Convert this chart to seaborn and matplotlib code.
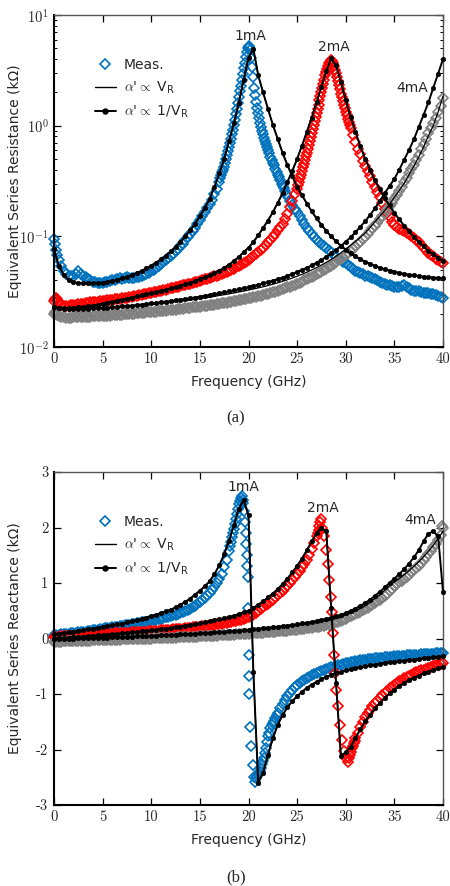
import numpy as np
import matplotlib
matplotlib.use("Agg")
import matplotlib.pyplot as plt
import matplotlib.ticker as mticker
from matplotlib.lines import Line2D
import seaborn as sns

# ---------------------------------------------------------------- data
CURRENTS = ["1mA", "2mA", "4mA"]
COLORS = {"1mA": "#0072BD", "2mA": "#FF0000", "4mA": "#808080"}
XTICKS = [0, 5, 10, 15, 20, 25, 30, 35, 40]
RTICKS = [1e-2, 1e-1, 1e0, 1e1]
RTICK_LABELS = [r"$10^{-2}$", r"$10^{-1}$", r"$10^{0}$", r"$10^{1}$"]
XRTICKS = [-3, -2, -1, 0, 1, 2, 3]

# model frequency sweep (GHz)
F_MODEL = np.arange(0.0, 40.25, 0.5)

# ---- equivalent series resistance, models (kOhm)
R_INV_1MA = [0.077, 0.054, 0.045, 0.040, 0.0385, 0.0378, 0.0375, 0.0375, 0.0376, 0.0378,
             0.0382, 0.0388, 0.0396, 0.0405, 0.0416, 0.0430, 0.0446, 0.0465, 0.0488, 0.0514,
             0.0545, 0.058, 0.062, 0.067, 0.073, 0.080, 0.089, 0.100, 0.113, 0.130,
             0.152, 0.180, 0.218, 0.28, 0.37, 0.50, 0.72, 1.05, 1.60, 2.60,
             4.10, 4.95, 2.85, 2.00, 1.42, 1.02, 0.76, 0.57, 0.44, 0.35,
             0.28, 0.235, 0.198, 0.168, 0.145, 0.127, 0.112, 0.100, 0.090, 0.082,
             0.076, 0.070, 0.066, 0.062, 0.059, 0.0565, 0.054, 0.052, 0.0505, 0.049,
             0.0478, 0.0467, 0.0458, 0.045, 0.0443, 0.0437, 0.0432, 0.0428, 0.0424, 0.0421,
             0.0418]
R_VR_1MA = [0.076, 0.054, 0.045, 0.040, 0.0385, 0.0378, 0.0375, 0.0375, 0.0376, 0.0378,
            0.0382, 0.0388, 0.0396, 0.0405, 0.0416, 0.0430, 0.0446, 0.0465, 0.0488, 0.0514,
            0.0545, 0.058, 0.062, 0.067, 0.073, 0.080, 0.089, 0.100, 0.113, 0.130,
            0.152, 0.180, 0.218, 0.28, 0.37, 0.50, 0.72, 1.05, 1.60, 2.60,
            4.10, 4.90, 2.85, 2.00, 1.42, 1.02, 0.76, 0.57, 0.44, 0.35,
            0.28, 0.235, 0.198, 0.168, 0.145, 0.127, 0.112, 0.100, 0.090, 0.082,
            0.076, 0.070, 0.066, 0.062, 0.059, 0.0565, 0.054, 0.052, 0.0505, 0.049,
            0.0478, 0.0467, 0.0458, 0.045, 0.0443, 0.0437, 0.0432, 0.0428, 0.0424, 0.0421,
            0.0418]
R_INV_2MA = [0.0228, 0.0225, 0.0224, 0.0225, 0.0226, 0.0228, 0.0230, 0.0233, 0.0237, 0.0241,
             0.0246, 0.0251, 0.0256, 0.0262, 0.0268, 0.0274, 0.0280, 0.0286, 0.0292, 0.0299,
             0.0306, 0.0313, 0.0321, 0.0329, 0.0338, 0.0347, 0.0357, 0.0368, 0.0380, 0.0394,
             0.0410, 0.0427, 0.0446, 0.0468, 0.0490, 0.0520, 0.0555, 0.0600, 0.0650, 0.0720,
             0.079, 0.089, 0.102, 0.119, 0.139, 0.165, 0.200, 0.245, 0.310, 0.390,
             0.50, 0.66, 0.88, 1.18, 1.62, 2.25, 3.10, 4.05, 3.50, 2.50,
             1.70, 1.20, 0.88, 0.65, 0.50, 0.40, 0.32, 0.265, 0.222, 0.190,
             0.163, 0.142, 0.125, 0.111, 0.099, 0.089, 0.081, 0.074, 0.069, 0.064,
             0.060]
R_VR_2MA = [0.0227, 0.0225, 0.0224, 0.0225, 0.0226, 0.0228, 0.0230, 0.0233, 0.0237, 0.0241,
            0.0246, 0.0251, 0.0256, 0.0262, 0.0268, 0.0274, 0.0280, 0.0286, 0.0292, 0.0299,
            0.0306, 0.0313, 0.0321, 0.0329, 0.0338, 0.0347, 0.0357, 0.0368, 0.0380, 0.0394,
            0.0410, 0.0427, 0.0446, 0.0468, 0.0490, 0.0520, 0.0555, 0.0600, 0.0650, 0.0720,
            0.079, 0.089, 0.102, 0.119, 0.139, 0.165, 0.200, 0.245, 0.310, 0.390,
            0.50, 0.66, 0.88, 1.18, 1.62, 2.25, 3.10, 4.00, 3.50, 2.50,
            1.70, 1.20, 0.88, 0.65, 0.50, 0.40, 0.32, 0.265, 0.222, 0.190,
            0.163, 0.142, 0.125, 0.111, 0.099, 0.089, 0.081, 0.074, 0.069, 0.064,
            0.060]
R_INV_4MA = [0.0228, 0.0223, 0.0221, 0.0220, 0.0220, 0.0220, 0.0221, 0.0222, 0.0223, 0.0224,
             0.0226, 0.0227, 0.0229, 0.0231, 0.0233, 0.0235, 0.0237, 0.0239, 0.0242, 0.0245,
             0.0248, 0.0251, 0.0254, 0.0257, 0.0260, 0.0264, 0.0268, 0.0272, 0.0276, 0.0280,
             0.0285, 0.0290, 0.0295, 0.0300, 0.0306, 0.0312, 0.0318, 0.0325, 0.0332, 0.0340,
             0.0348, 0.0356, 0.0365, 0.0375, 0.0386, 0.0398, 0.0410, 0.0424, 0.0440, 0.0457,
             0.0476, 0.0497, 0.0520, 0.0547, 0.0578, 0.0613, 0.0654, 0.0700, 0.0755, 0.0820,
             0.0895, 0.098, 0.109, 0.122, 0.137, 0.156, 0.179, 0.208, 0.245, 0.285,
             0.33, 0.40, 0.49, 0.60, 0.75, 0.97, 1.25, 1.62, 2.20, 2.95,
             4.0]
R_VR_4MA = [0.0226, 0.0222, 0.0220, 0.0219, 0.0219, 0.0219, 0.0220, 0.0220, 0.0221, 0.0222,
            0.0223, 0.0225, 0.0226, 0.0228, 0.0230, 0.0231, 0.0233, 0.0235, 0.0237, 0.0240,
            0.0242, 0.0245, 0.0247, 0.0250, 0.0253, 0.0256, 0.0259, 0.0263, 0.0266, 0.0270,
            0.0274, 0.0278, 0.0282, 0.0287, 0.0292, 0.0297, 0.0302, 0.0308, 0.0314, 0.0320,
            0.0327, 0.0334, 0.0342, 0.0350, 0.0359, 0.0369, 0.0380, 0.0392, 0.0405, 0.0420,
            0.0436, 0.0454, 0.0474, 0.0497, 0.0522, 0.0550, 0.0582, 0.0618, 0.0660, 0.0710,
            0.0770, 0.0830, 0.0900, 0.0980, 0.107, 0.120, 0.135, 0.152, 0.170, 0.195,
            0.225, 0.260, 0.300, 0.360, 0.430, 0.520, 0.640, 0.810, 1.00, 1.33,
            1.85]

# ---- equivalent series reactance, models (kOhm)
X_INV_1MA = [0.08, 0.09, 0.10, 0.11, 0.12, 0.135, 0.15, 0.165, 0.18, 0.195,
             0.21, 0.225, 0.24, 0.255, 0.27, 0.29, 0.31, 0.33, 0.35, 0.375,
             0.40, 0.43, 0.46, 0.49, 0.52, 0.56, 0.61, 0.66, 0.72, 0.79,
             0.86, 0.94, 1.03, 1.16, 1.32, 1.52, 1.76, 2.04, 2.34, 2.50,
             2.22, -0.60, -2.60, -2.42, -2.10, -1.80, -1.56, -1.38, -1.24, -1.13,
             -1.04, -0.96, -0.89, -0.83, -0.78, -0.73, -0.69, -0.655, -0.625, -0.60,
             -0.575, -0.555, -0.535, -0.515, -0.50, -0.485, -0.47, -0.455, -0.44, -0.43,
             -0.42, -0.41, -0.40, -0.39, -0.38, -0.37, -0.36, -0.35, -0.34, -0.33,
             -0.32]
X_VR_1MA = [0.08, 0.09, 0.10, 0.11, 0.12, 0.135, 0.15, 0.165, 0.18, 0.195,
            0.21, 0.225, 0.24, 0.255, 0.27, 0.29, 0.31, 0.33, 0.35, 0.375,
            0.40, 0.43, 0.46, 0.49, 0.52, 0.56, 0.61, 0.66, 0.72, 0.79,
            0.86, 0.94, 1.03, 1.16, 1.32, 1.52, 1.76, 2.04, 2.34, 2.48,
            2.20, -0.60, -2.58, -2.42, -2.10, -1.80, -1.56, -1.38, -1.24, -1.13,
            -1.04, -0.96, -0.89, -0.83, -0.78, -0.73, -0.69, -0.655, -0.625, -0.60,
            -0.575, -0.555, -0.535, -0.515, -0.50, -0.485, -0.47, -0.455, -0.44, -0.43,
            -0.42, -0.41, -0.40, -0.39, -0.38, -0.37, -0.36, -0.35, -0.34, -0.33,
            -0.32]
X_INV_2MA = [0.00, 0.006, 0.012, 0.018, 0.024, 0.030, 0.036, 0.042, 0.049, 0.056,
             0.063, 0.070, 0.077, 0.085, 0.093, 0.101, 0.109, 0.118, 0.127, 0.137,
             0.147, 0.157, 0.168, 0.179, 0.190, 0.202, 0.215, 0.228, 0.242, 0.258,
             0.275, 0.29, 0.307, 0.325, 0.345, 0.365, 0.388, 0.413, 0.44, 0.47,
             0.50, 0.55, 0.61, 0.67, 0.74, 0.81, 0.89, 0.98, 1.08, 1.19,
             1.31, 1.44, 1.59, 1.75, 1.90, 2.00, 1.93, 0.55, -0.80, -2.12,
             -2.05, -1.95, -1.80, -1.63, -1.49, -1.37, -1.26, -1.16, -1.07, -0.99,
             -0.92, -0.86, -0.80, -0.75, -0.71, -0.67, -0.63, -0.60, -0.57, -0.54,
             -0.51]
X_VR_2MA = [0.00, 0.006, 0.012, 0.018, 0.024, 0.030, 0.036, 0.042, 0.049, 0.056,
            0.063, 0.070, 0.077, 0.085, 0.093, 0.101, 0.109, 0.118, 0.127, 0.137,
            0.147, 0.157, 0.168, 0.179, 0.190, 0.202, 0.215, 0.228, 0.242, 0.258,
            0.275, 0.29, 0.307, 0.325, 0.345, 0.365, 0.388, 0.413, 0.44, 0.47,
            0.50, 0.55, 0.61, 0.67, 0.74, 0.81, 0.89, 0.98, 1.08, 1.19,
            1.31, 1.44, 1.59, 1.75, 1.89, 1.98, 1.92, 0.55, -0.80, -2.10,
            -2.05, -1.95, -1.80, -1.63, -1.49, -1.37, -1.26, -1.16, -1.07, -0.99,
            -0.92, -0.86, -0.80, -0.75, -0.71, -0.67, -0.63, -0.60, -0.57, -0.54,
            -0.51]
X_INV_4MA = [-0.010, -0.008, -0.005, -0.003, 0.000, 0.002, 0.005, 0.007, 0.010, 0.012,
             0.015, 0.017, 0.020, 0.023, 0.027, 0.030, 0.034, 0.037, 0.041, 0.044,
             0.048, 0.052, 0.056, 0.060, 0.064, 0.068, 0.073, 0.077, 0.082, 0.087,
             0.092, 0.097, 0.103, 0.109, 0.115, 0.121, 0.128, 0.135, 0.142, 0.149,
             0.157, 0.165, 0.173, 0.181, 0.190, 0.200, 0.210, 0.221, 0.232, 0.244,
             0.257, 0.271, 0.285, 0.300, 0.317, 0.335, 0.355, 0.376, 0.400, 0.426,
             0.46, 0.50, 0.54, 0.59, 0.64, 0.70, 0.77, 0.84, 0.92, 1.00,
             1.08, 1.16, 1.25, 1.35, 1.46, 1.59, 1.75, 1.89, 1.93, 1.84,
             0.84]
X_VR_4MA = [-0.012, -0.010, -0.007, -0.005, -0.002, 0.000, 0.003, 0.005, 0.008, 0.010,
            0.013, 0.015, 0.018, 0.021, 0.024, 0.027, 0.031, 0.034, 0.037, 0.041,
            0.044, 0.048, 0.052, 0.056, 0.060, 0.064, 0.068, 0.072, 0.077, 0.081,
            0.086, 0.091, 0.096, 0.101, 0.107, 0.113, 0.119, 0.125, 0.132, 0.139,
            0.146, 0.153, 0.161, 0.169, 0.177, 0.186, 0.195, 0.205, 0.215, 0.226,
            0.237, 0.249, 0.262, 0.275, 0.290, 0.305, 0.322, 0.340, 0.360, 0.382,
            0.43, 0.46, 0.50, 0.54, 0.59, 0.65, 0.72, 0.79, 0.87, 0.95,
            1.02, 1.08, 1.15, 1.22, 1.30, 1.38, 1.47, 1.57, 1.68, 1.80,
            1.93]

# ---- measured data, (frequency GHz, value kOhm) pairs
MEAS_R_1MA = [
    (0, 0.094), (0.1, 0.085), (0.2, 0.075), (0.3, 0.068), (0.5, 0.061), (0.75, 0.054), (1, 0.049),
    (1.25, 0.046), (1.5, 0.044), (1.75, 0.0435), (2, 0.043), (2.25, 0.046), (2.5, 0.049),
    (2.75, 0.046), (3, 0.044), (3.25, 0.0425), (3.5, 0.041), (3.75, 0.040), (4, 0.039),
    (4.25, 0.0385), (4.5, 0.038), (4.75, 0.0378), (5, 0.038), (5.25, 0.0385), (5.5, 0.039),
    (5.75, 0.0395), (6, 0.040), (6.25, 0.0405), (6.5, 0.041), (6.75, 0.042), (7, 0.0415),
    (7.25, 0.042), (7.5, 0.0425), (7.75, 0.0423), (8, 0.042), (8.25, 0.0422), (8.5, 0.0425),
    (8.75, 0.0432), (9, 0.044), (9.25, 0.045), (9.5, 0.046), (9.75, 0.047), (10, 0.0485),
    (10.25, 0.050), (10.5, 0.052), (10.75, 0.054), (11, 0.056), (11.25, 0.0585), (11.5, 0.061),
    (11.75, 0.0635), (12, 0.066), (12.25, 0.0695), (12.5, 0.073), (12.75, 0.077), (13, 0.081),
    (13.25, 0.086), (13.5, 0.092), (13.75, 0.098), (14, 0.104), (14.25, 0.112), (14.5, 0.120),
    (14.75, 0.130), (15, 0.140), (15.25, 0.152), (15.5, 0.165), (15.75, 0.18), (16, 0.195),
    (16.25, 0.215), (16.5, 0.24), (16.75, 0.27), (17, 0.31), (17.1, 0.335), (17.2, 0.355),
    (17.3, 0.38), (17.4, 0.40), (17.5, 0.42), (17.6, 0.46), (17.7, 0.50), (17.8, 0.54),
    (17.9, 0.59), (18, 0.64), (18.1, 0.70), (18.2, 0.76), (18.3, 0.84), (18.4, 0.92),
    (18.5, 1.02), (18.6, 1.13), (18.7, 1.27), (18.8, 1.42), (18.9, 1.60), (19, 1.80),
    (19.1, 2.05), (19.2, 2.3), (19.3, 2.6), (19.4, 2.95), (19.5, 3.3), (19.6, 3.7), (19.7, 4.15),
    (19.8, 4.6), (19.9, 5.0), (20, 5.25), (20.1, 5.1), (20.2, 4.8), (20.3, 4.1), (20.4, 3.4),
    (20.5, 2.75), (20.6, 2.2), (20.7, 1.9), (20.8, 1.65), (20.9, 1.45), (21, 1.30), (21.1, 1.17),
    (21.2, 1.05), (21.3, 0.97), (21.4, 0.90), (21.5, 0.84), (21.6, 0.78), (21.7, 0.72),
    (21.8, 0.68), (21.9, 0.64), (22, 0.60), (22.1, 0.57), (22.25, 0.52), (22.4, 0.485),
    (22.5, 0.46), (22.6, 0.44), (22.75, 0.41), (22.9, 0.38), (23, 0.36), (23.1, 0.345),
    (23.25, 0.32), (23.4, 0.30), (23.5, 0.285), (23.6, 0.275), (23.75, 0.255), (23.9, 0.24),
    (24, 0.23), (24.25, 0.21), (24.5, 0.19), (24.75, 0.177), (25, 0.165), (25.25, 0.152),
    (25.5, 0.14), (25.75, 0.128), (26, 0.118), (26.25, 0.111), (26.5, 0.105), (26.75, 0.098),
    (27, 0.092), (27.25, 0.088), (27.5, 0.085), (27.75, 0.081), (28, 0.078), (28.25, 0.075),
    (28.5, 0.072), (28.75, 0.068), (29, 0.065), (29.25, 0.063), (29.5, 0.061), (29.75, 0.059),
    (30, 0.057), (30.25, 0.055), (30.5, 0.053), (30.75, 0.051), (31, 0.049), (31.25, 0.048),
    (31.5, 0.047), (31.75, 0.0455), (32, 0.044), (32.25, 0.0435), (32.5, 0.043), (32.75, 0.042),
    (33, 0.041), (33.25, 0.040), (33.5, 0.039), (33.75, 0.038), (34, 0.037), (34.25, 0.0365),
    (34.5, 0.036), (34.75, 0.0355), (35, 0.035), (35.25, 0.0345), (35.5, 0.0345), (35.75, 0.0355),
    (36, 0.036), (36.25, 0.035), (36.5, 0.034), (36.75, 0.033), (37, 0.032), (37.25, 0.032),
    (37.5, 0.032), (37.75, 0.0315), (38, 0.031), (38.25, 0.0308), (38.5, 0.0305), (38.75, 0.0302),
    (39, 0.030), (39.25, 0.0295), (39.5, 0.029), (39.75, 0.0285), (40, 0.028)]
MEAS_R_2MA = [
    (0, 0.026), (0.1, 0.027), (0.2, 0.0275), (0.3, 0.027), (0.4, 0.026), (0.5, 0.025),
    (0.75, 0.0238), (1, 0.0235), (1.25, 0.0235), (1.5, 0.0236), (1.75, 0.0238), (2, 0.024),
    (2.25, 0.0242), (2.5, 0.0243), (2.75, 0.0245), (3, 0.0247), (3.25, 0.0249), (3.5, 0.0251),
    (3.75, 0.0253), (4, 0.0254), (4.25, 0.0256), (4.5, 0.0257), (4.75, 0.0259), (5, 0.026),
    (5.25, 0.0262), (5.5, 0.0264), (5.75, 0.0266), (6, 0.0268), (6.25, 0.027), (6.5, 0.0272),
    (6.75, 0.0274), (7, 0.0276), (7.25, 0.0278), (7.5, 0.028), (7.75, 0.0283), (8, 0.0285),
    (8.25, 0.0288), (8.5, 0.029), (8.75, 0.0293), (9, 0.0296), (9.25, 0.0299), (9.5, 0.0302),
    (9.75, 0.0305), (10, 0.0308), (10.25, 0.0311), (10.5, 0.0315), (10.75, 0.0318), (11, 0.0322),
    (11.25, 0.0326), (11.5, 0.033), (11.75, 0.0334), (12, 0.0338), (12.25, 0.0342), (12.5, 0.0346),
    (12.75, 0.035), (13, 0.0355), (13.25, 0.036), (13.5, 0.0364), (13.75, 0.0369), (14, 0.0374),
    (14.25, 0.0379), (14.5, 0.0385), (14.75, 0.039), (15, 0.0396), (15.25, 0.0402), (15.5, 0.0408),
    (15.75, 0.0414), (16, 0.0421), (16.25, 0.0428), (16.5, 0.0435), (16.75, 0.0442), (17, 0.045),
    (17.25, 0.0458), (17.5, 0.0467), (17.75, 0.0477), (18, 0.0487), (18.25, 0.0498), (18.5, 0.051),
    (18.75, 0.0524), (19, 0.0538), (19.25, 0.0553), (19.5, 0.057), (19.75, 0.059), (20, 0.061),
    (20.25, 0.0633), (20.5, 0.066), (20.75, 0.069), (21, 0.072), (21.25, 0.0755), (21.5, 0.079),
    (21.75, 0.0835), (22, 0.088), (22.25, 0.0935), (22.5, 0.099), (22.75, 0.106), (23, 0.113),
    (23.25, 0.121), (23.5, 0.13), (23.75, 0.143), (24, 0.16), (24.25, 0.183), (24.5, 0.21),
    (24.75, 0.24), (25, 0.27), (25.1, 0.29), (25.2, 0.31), (25.3, 0.335), (25.4, 0.36),
    (25.5, 0.39), (25.6, 0.42), (25.7, 0.45), (25.8, 0.49), (25.9, 0.53), (26, 0.57), (26.1, 0.62),
    (26.2, 0.67), (26.3, 0.73), (26.4, 0.79), (26.5, 0.86), (26.6, 0.93), (26.7, 1.01), (26.8, 1.10),
    (26.9, 1.20), (27, 1.30), (27.1, 1.42), (27.2, 1.55), (27.3, 1.70), (27.4, 1.85), (27.5, 2.0),
    (27.6, 2.2), (27.7, 2.4), (27.8, 2.6), (27.9, 2.85), (28, 3.05), (28.1, 3.25), (28.2, 3.45),
    (28.3, 3.65), (28.4, 3.8), (28.5, 3.9), (28.6, 3.85), (28.7, 3.7), (28.8, 3.45), (28.9, 3.2),
    (29, 3.0), (29.1, 2.75), (29.2, 2.55), (29.3, 2.35), (29.4, 2.15), (29.5, 1.95), (29.6, 1.8),
    (29.7, 1.67), (29.8, 1.55), (29.9, 1.43), (30, 1.33), (30.1, 1.24), (30.2, 1.16), (30.3, 1.08),
    (30.4, 1.01), (30.5, 0.95), (30.75, 0.82), (31, 0.71), (31.25, 0.62), (31.5, 0.55),
    (31.75, 0.48), (32, 0.43), (32.25, 0.39), (32.5, 0.35), (32.75, 0.31), (33, 0.28), (33.25, 0.25),
    (33.5, 0.225), (33.75, 0.2), (34, 0.178), (34.25, 0.162), (34.5, 0.148), (34.75, 0.136),
    (35, 0.127), (35.25, 0.121), (35.5, 0.117), (35.75, 0.114), (36, 0.111), (36.25, 0.108),
    (36.5, 0.104), (36.75, 0.1), (37, 0.096), (37.25, 0.092), (37.5, 0.088), (37.75, 0.083),
    (38, 0.079), (38.25, 0.075), (38.5, 0.071), (38.75, 0.068), (39, 0.066), (39.25, 0.063),
    (39.5, 0.061), (39.75, 0.059), (40, 0.057)]
MEAS_R_4MA = [
    (0, 0.0199), (0.1, 0.0205), (0.2, 0.020), (0.3, 0.0195), (0.5, 0.019), (0.75, 0.0187),
    (1, 0.0185), (1.25, 0.0184), (1.5, 0.0184), (1.75, 0.0184), (2, 0.0185), (2.25, 0.0185),
    (2.5, 0.0186), (2.75, 0.0186), (3, 0.0187), (3.25, 0.0187), (3.5, 0.0188), (3.75, 0.0188),
    (4, 0.0189), (4.25, 0.0189), (4.5, 0.019), (4.75, 0.019), (5, 0.0191), (5.25, 0.0191),
    (5.5, 0.0192), (5.75, 0.0192), (6, 0.0193), (6.25, 0.0194), (6.5, 0.0195), (6.75, 0.0195),
    (7, 0.0196), (7.25, 0.0197), (7.5, 0.0198), (7.75, 0.0198), (8, 0.0199), (8.25, 0.02),
    (8.5, 0.0201), (8.75, 0.0202), (9, 0.0203), (9.25, 0.0204), (9.5, 0.0205), (9.75, 0.0206),
    (10, 0.0207), (10.25, 0.0208), (10.5, 0.0209), (10.75, 0.021), (11, 0.0211), (11.25, 0.0212),
    (11.5, 0.0213), (11.75, 0.0214), (12, 0.0215), (12.25, 0.0216), (12.5, 0.0218), (12.75, 0.0219),
    (13, 0.022), (13.25, 0.0222), (13.5, 0.0223), (13.75, 0.0225), (14, 0.0226), (14.25, 0.0228),
    (14.5, 0.0229), (14.75, 0.0231), (15, 0.0232), (15.25, 0.0234), (15.5, 0.0235), (15.75, 0.0237),
    (16, 0.0238), (16.25, 0.024), (16.5, 0.0242), (16.75, 0.0244), (17, 0.0246), (17.25, 0.0248),
    (17.5, 0.025), (17.75, 0.0252), (18, 0.0254), (18.25, 0.0256), (18.5, 0.0259), (18.75, 0.0261),
    (19, 0.0264), (19.25, 0.0266), (19.5, 0.0269), (19.75, 0.0272), (20, 0.0275), (20.25, 0.0278),
    (20.5, 0.0281), (20.75, 0.0284), (21, 0.0288), (21.25, 0.0291), (21.5, 0.0295), (21.75, 0.0299),
    (22, 0.0303), (22.25, 0.0307), (22.5, 0.0312), (22.75, 0.0317), (23, 0.0322), (23.25, 0.0327),
    (23.5, 0.0333), (23.75, 0.0339), (24, 0.0345), (24.25, 0.0351), (24.5, 0.0358), (24.75, 0.0365),
    (25, 0.0373), (25.25, 0.0381), (25.5, 0.039), (25.75, 0.0399), (26, 0.0409), (26.25, 0.0419),
    (26.5, 0.043), (26.75, 0.0442), (27, 0.0454), (27.25, 0.0467), (27.5, 0.048), (27.75, 0.0495),
    (28, 0.051), (28.25, 0.0527), (28.5, 0.0545), (28.75, 0.0565), (29, 0.0585), (29.25, 0.0607),
    (29.5, 0.063), (29.75, 0.0655), (30, 0.068), (30.25, 0.071), (30.5, 0.074), (30.75, 0.0775),
    (31, 0.081), (31.25, 0.085), (31.5, 0.089), (31.75, 0.094), (32, 0.099), (32.25, 0.105),
    (32.5, 0.111), (32.75, 0.118), (33, 0.125), (33.25, 0.133), (33.5, 0.142), (33.75, 0.152),
    (34, 0.163), (34.25, 0.175), (34.5, 0.188), (34.75, 0.202), (35, 0.218), (35.25, 0.237),
    (35.5, 0.258), (35.75, 0.282), (36, 0.308), (36.25, 0.337), (36.5, 0.37), (36.75, 0.405),
    (37, 0.445), (37.25, 0.49), (37.5, 0.545), (37.75, 0.61), (38, 0.68), (38.25, 0.76),
    (38.5, 0.85), (38.75, 0.95), (39, 1.06), (39.25, 1.18), (39.5, 1.33), (39.75, 1.52), (40, 1.78)]

MEAS_X_1MA = [
    (0, 0.06), (0.25, 0.065), (0.5, 0.07), (0.75, 0.075), (1, 0.08), (1.25, 0.085), (1.5, 0.09),
    (1.75, 0.095), (2, 0.10), (2.25, 0.105), (2.5, 0.11), (2.75, 0.115), (3, 0.12), (3.25, 0.125),
    (3.5, 0.13), (3.75, 0.137), (4, 0.145), (4.25, 0.152), (4.5, 0.16), (4.75, 0.167), (5, 0.175),
    (5.25, 0.182), (5.5, 0.19), (5.75, 0.195), (6, 0.20), (6.25, 0.207), (6.5, 0.215), (6.75, 0.222),
    (7, 0.23), (7.25, 0.237), (7.5, 0.245), (7.75, 0.252), (8, 0.26), (8.25, 0.267), (8.5, 0.275),
    (8.75, 0.282), (9, 0.29), (9.25, 0.297), (9.5, 0.305), (9.75, 0.312), (10, 0.32), (10.25, 0.33),
    (10.5, 0.34), (10.75, 0.35), (11, 0.36), (11.25, 0.37), (11.5, 0.38), (11.75, 0.392),
    (12, 0.405), (12.25, 0.417), (12.5, 0.43), (12.75, 0.445), (13, 0.46), (13.25, 0.48),
    (13.5, 0.50), (13.75, 0.52), (14, 0.54), (14.25, 0.565), (14.5, 0.59), (14.75, 0.62),
    (15, 0.65), (15.25, 0.69), (15.5, 0.73), (15.75, 0.775), (16, 0.82), (16.25, 0.87),
    (16.5, 0.93), (16.75, 1.00), (17, 1.08), (17.25, 1.17), (17.5, 1.28), (17.75, 1.42),
    (18, 1.58), (18.1, 1.66), (18.2, 1.74), (18.3, 1.82), (18.4, 1.90), (18.5, 1.98), (18.6, 2.07),
    (18.7, 2.16), (18.8, 2.25), (18.9, 2.34), (19.0, 2.42), (19.1, 2.48), (19.2, 2.53),
    (19.3, 2.56), (19.4, 2.50), (19.45, 2.45), (19.5, 2.30), (19.6, 2.10), (19.7, 1.90),
    (19.75, 1.70), (19.8, 1.50), (19.85, 1.30), (19.9, 1.10), (19.95, 0.55), (20.0, -0.30),
    (20.05, -0.68), (20.1, -1.00), (20.2, -1.60), (20.3, -1.93), (20.45, -2.28), (20.6, -2.50),
    (20.7, -2.58), (20.8, -2.52), (20.9, -2.48), (21.0, -2.45), (21.1, -2.42), (21.2, -2.38),
    (21.3, -2.33), (21.4, -2.27), (21.5, -2.21), (21.6, -2.15), (21.7, -2.07), (21.8, -1.98),
    (21.9, -1.87), (22.0, -1.75), (22.1, -1.70), (22.25, -1.62), (22.4, -1.56), (22.5, -1.52),
    (22.6, -1.48), (22.75, -1.43), (22.9, -1.37), (23.0, -1.34), (23.25, -1.26), (23.5, -1.18),
    (23.75, -1.11), (24, -1.04), (24.25, -0.98), (24.5, -0.93), (24.75, -0.88), (25, -0.84),
    (25.25, -0.80), (25.5, -0.77), (25.75, -0.74), (26, -0.71), (26.25, -0.685), (26.5, -0.66),
    (26.75, -0.64), (27, -0.62), (27.25, -0.60), (27.5, -0.58), (27.75, -0.565), (28, -0.55),
    (28.25, -0.535), (28.5, -0.52), (28.75, -0.505), (29, -0.49), (29.25, -0.48), (29.5, -0.47),
    (29.75, -0.46), (30, -0.45), (30.25, -0.44), (30.5, -0.43), (30.75, -0.42), (31, -0.41),
    (31.25, -0.402), (31.5, -0.395), (31.75, -0.387), (32, -0.38), (32.25, -0.375), (32.5, -0.37),
    (32.75, -0.365), (33, -0.36), (33.25, -0.355), (33.5, -0.35), (33.75, -0.345), (34, -0.34),
    (34.25, -0.335), (34.5, -0.33), (34.75, -0.325), (35, -0.32), (35.25, -0.317), (35.5, -0.315),
    (35.75, -0.312), (36, -0.31), (36.25, -0.305), (36.5, -0.30), (36.75, -0.297), (37, -0.295),
    (37.25, -0.292), (37.5, -0.29), (37.75, -0.287), (38, -0.285), (38.25, -0.282), (38.5, -0.28),
    (38.75, -0.277), (39, -0.275), (39.25, -0.27), (39.5, -0.265), (39.75, -0.262), (40, -0.26)]
MEAS_X_2MA = [
    (0, 0.03), (0.25, 0.0325), (0.5, 0.035), (0.75, 0.0375), (1, 0.04), (1.25, 0.0425), (1.5, 0.045),
    (1.75, 0.0475), (2, 0.05), (2.25, 0.0525), (2.5, 0.055), (2.75, 0.0575), (3, 0.06),
    (3.25, 0.0625), (3.5, 0.065), (3.75, 0.0675), (4, 0.07), (4.25, 0.0725), (4.5, 0.075),
    (4.75, 0.0775), (5, 0.08), (5.25, 0.0825), (5.5, 0.085), (5.75, 0.0875), (6, 0.09),
    (6.25, 0.0925), (6.5, 0.095), (6.75, 0.0975), (7, 0.10), (7.25, 0.1025), (7.5, 0.105),
    (7.75, 0.1075), (8, 0.11), (8.25, 0.1125), (8.5, 0.115), (8.75, 0.1175), (9, 0.12),
    (9.25, 0.1225), (9.5, 0.125), (9.75, 0.1275), (10, 0.13), (10.25, 0.134), (10.5, 0.138),
    (10.75, 0.141), (11, 0.145), (11.25, 0.148), (11.5, 0.152), (11.75, 0.156), (12, 0.16),
    (12.25, 0.164), (12.5, 0.168), (12.75, 0.172), (13, 0.176), (13.25, 0.18), (13.5, 0.185),
    (13.75, 0.19), (14, 0.195), (14.25, 0.2), (14.5, 0.205), (14.75, 0.21), (15, 0.215),
    (15.25, 0.22), (15.5, 0.225), (15.75, 0.231), (16, 0.237), (16.25, 0.243), (16.5, 0.25),
    (16.75, 0.256), (17, 0.263), (17.25, 0.27), (17.5, 0.277), (17.75, 0.284), (18, 0.292),
    (18.25, 0.301), (18.5, 0.31), (18.75, 0.32), (19, 0.33), (19.25, 0.342), (19.5, 0.355),
    (19.75, 0.37), (20, 0.385), (20.25, 0.405), (20.5, 0.43), (20.75, 0.46), (21, 0.49),
    (21.25, 0.525), (21.5, 0.56), (21.75, 0.595), (22, 0.63), (22.25, 0.665), (22.5, 0.70),
    (22.75, 0.74), (23, 0.78), (23.25, 0.82), (23.5, 0.86), (23.75, 0.905), (24, 0.95),
    (24.25, 1.0), (24.5, 1.05), (24.75, 1.1), (25, 1.16), (25.25, 1.22), (25.5, 1.28),
    (25.75, 1.35), (26, 1.42), (26.25, 1.51), (26.5, 1.61), (26.75, 1.72), (27, 1.84), (27.1, 1.90),
    (27.2, 1.96), (27.3, 2.03), (27.4, 2.10), (27.5, 2.15), (27.6, 2.00), (27.75, 1.85),
    (28.0, 1.60), (28.15, 1.35), (28.3, 1.05), (28.45, 0.75), (28.55, 0.48), (28.65, 0.10),
    (28.75, -0.30), (28.85, -0.62), (29.0, -0.92), (29.2, -1.22), (29.4, -1.55), (29.6, -1.83),
    (29.8, -2.02), (30.0, -2.15), (30.2, -2.22), (30.3, -2.16), (30.4, -2.10), (30.5, -2.04),
    (30.6, -1.98), (30.7, -1.93), (30.8, -1.88), (30.9, -1.84), (31.0, -1.80), (31.25, -1.70),
    (31.5, -1.60), (31.75, -1.50), (32, -1.42), (32.25, -1.35), (32.5, -1.28), (32.75, -1.22),
    (33, -1.17), (33.25, -1.12), (33.5, -1.07), (33.75, -1.02), (34, -0.98), (34.25, -0.94),
    (34.5, -0.90), (34.75, -0.865), (35, -0.83), (35.25, -0.80), (35.5, -0.77), (35.75, -0.745),
    (36, -0.72), (36.25, -0.695), (36.5, -0.67), (36.75, -0.65), (37, -0.63), (37.25, -0.61),
    (37.5, -0.59), (37.75, -0.575), (38, -0.56), (38.25, -0.545), (38.5, -0.53), (38.75, -0.515),
    (39, -0.50), (39.25, -0.485), (39.5, -0.47), (39.75, -0.455), (40, -0.44)]
MEAS_X_4MA = [
    (0, -0.06), (0.25, -0.058), (0.5, -0.057), (0.75, -0.055), (1, -0.054), (1.25, -0.052),
    (1.5, -0.051), (1.75, -0.049), (2, -0.048), (2.25, -0.046), (2.5, -0.045), (2.75, -0.043),
    (3, -0.042), (3.25, -0.04), (3.5, -0.039), (3.75, -0.037), (4, -0.036), (4.25, -0.034),
    (4.5, -0.033), (4.75, -0.031), (5, -0.030), (5.25, -0.028), (5.5, -0.027), (5.75, -0.025),
    (6, -0.024), (6.25, -0.022), (6.5, -0.021), (6.75, -0.019), (7, -0.018), (7.25, -0.016),
    (7.5, -0.015), (7.75, -0.013), (8, -0.012), (8.25, -0.01), (8.5, -0.009), (8.75, -0.007),
    (9, -0.006), (9.25, -0.004), (9.5, -0.003), (9.75, -0.001), (10, 0.0), (10.25, 0.002),
    (10.5, 0.003), (10.75, 0.005), (11, 0.007), (11.25, 0.008), (11.5, 0.010), (11.75, 0.012),
    (12, 0.014), (12.25, 0.016), (12.5, 0.018), (12.75, 0.02), (13, 0.022), (13.25, 0.024),
    (13.5, 0.026), (13.75, 0.028), (14, 0.030), (14.25, 0.032), (14.5, 0.034), (14.75, 0.036),
    (15, 0.038), (15.25, 0.04), (15.5, 0.042), (15.75, 0.045), (16, 0.047), (16.25, 0.049),
    (16.5, 0.051), (16.75, 0.054), (17, 0.056), (17.25, 0.059), (17.5, 0.061), (17.75, 0.064),
    (18, 0.066), (18.25, 0.069), (18.5, 0.071), (18.75, 0.074), (19, 0.077), (19.25, 0.08),
    (19.5, 0.083), (19.75, 0.086), (20, 0.089), (20.25, 0.092), (20.5, 0.095), (20.75, 0.098),
    (21, 0.101), (21.25, 0.104), (21.5, 0.107), (21.75, 0.11), (22, 0.113), (22.25, 0.117),
    (22.5, 0.120), (22.75, 0.124), (23, 0.127), (23.25, 0.131), (23.5, 0.135), (23.75, 0.139),
    (24, 0.143), (24.25, 0.147), (24.5, 0.151), (24.75, 0.156), (25, 0.160), (25.25, 0.165),
    (25.5, 0.170), (25.75, 0.175), (26, 0.181), (26.25, 0.187), (26.5, 0.194), (26.75, 0.201),
    (27, 0.208), (27.25, 0.216), (27.5, 0.224), (27.75, 0.233), (28, 0.242), (28.25, 0.252),
    (28.5, 0.262), (28.75, 0.275), (29, 0.29), (29.25, 0.305), (29.5, 0.32), (29.75, 0.34),
    (30, 0.36), (30.25, 0.38), (30.5, 0.40), (30.75, 0.42), (31, 0.44), (31.25, 0.462),
    (31.5, 0.485), (31.75, 0.507), (32, 0.53), (32.25, 0.557), (32.5, 0.585), (32.75, 0.612),
    (33, 0.64), (33.25, 0.67), (33.5, 0.70), (33.75, 0.735), (34, 0.77), (34.25, 0.81),
    (34.5, 0.85), (34.75, 0.89), (35, 0.94), (35.25, 0.975), (35.5, 1.01), (35.75, 1.045),
    (36, 1.08), (36.25, 1.115), (36.5, 1.15), (36.75, 1.19), (37, 1.23), (37.25, 1.27),
    (37.5, 1.31), (37.75, 1.36), (38, 1.41), (38.25, 1.46), (38.5, 1.52), (38.75, 1.58),
    (39, 1.64), (39.25, 1.70), (39.5, 1.77), (39.75, 1.87), (39.9, 2.03), (40, 2.0)]

# --------------------------------------------------------------- styling
sns.set_style("ticks")
plt.rcParams["font.family"] = ["DejaVu Sans"]
plt.rcParams["mathtext.fontset"] = "cm"
plt.rcParams["axes.unicode_minus"] = False

W, H = 450, 886
fig = plt.figure(figsize=(W / 100, H / 100), dpi=100)
ax_a = fig.add_axes([54 / W, 1 - 347 / H, 389 / W, 332 / H])
ax_b = fig.add_axes([54 / W, 1 - 805 / H, 389 / W, 333 / H])

MEAS_KW = dict(marker="D", markersize=4.7, markerfacecolor="none", markeredgewidth=1.2,
               linestyle="none", sort=False, estimator=None, legend=False, clip_on=False)
VR_KW = dict(color="k", linewidth=0.9, sort=False, estimator=None, legend=False, clip_on=False)
INV_KW = dict(color="k", linewidth=1.4, marker="o", markersize=3.3, markeredgecolor="k",
              markeredgewidth=0.4, sort=False, estimator=None, legend=False, clip_on=False)


def draw_panel(ax, meas, vr, inv):
    for cur in CURRENTS:
        pts = np.asarray(meas[cur])
        sns.lineplot(x=pts[:, 0], y=pts[:, 1], ax=ax, color=COLORS[cur],
                     markeredgecolor=COLORS[cur], zorder=2, **MEAS_KW)
    for cur in CURRENTS:
        sns.lineplot(x=F_MODEL, y=vr[cur], ax=ax, zorder=3, **VR_KW)
    for cur in CURRENTS:
        sns.lineplot(x=F_MODEL, y=inv[cur], ax=ax, zorder=4, **INV_KW)


def style_axes(ax, ylabel):
    ax.set_xlim(0, 40)
    ax.set_xticks(XTICKS, labels=[str(t) for t in XTICKS], fontfamily="cmr10", fontsize=10.5)
    ax.tick_params(which="both", direction="in", top=True, right=True, color="k")
    ax.tick_params(which="major", length=5, width=0.9, pad=4)
    ax.tick_params(which="minor", length=2.5, width=0.7)
    for side in ("left", "bottom"):
        ax.spines[side].set_linewidth(1.5)
        ax.spines[side].set_color("k")
    for side in ("top", "right"):
        ax.spines[side].set_linewidth(1.0)
        ax.spines[side].set_color("#555555")
    ax.set_xlabel("Frequency (GHz)", fontsize=10)
    ax.xaxis.set_label_coords(0.5, -0.085)
    ax.set_ylabel(ylabel, fontsize=10)
    ax.yaxis.set_label_coords(-0.083, 0.5)
    handles = [
        Line2D([], [], color=COLORS["1mA"], marker="D", markersize=4.6, markerfacecolor="none",
               markeredgewidth=1.2, linestyle="none"),
        Line2D([], [], color="k", linewidth=1.0),
        Line2D([], [], color="k", linewidth=1.4, marker="o", markersize=3.6),
    ]
    labels = ["Meas.", r"$\alpha$'$\propto$ V$_\mathregular{R}$",
              r"$\alpha$'$\propto$ 1/V$_\mathregular{R}$"]
    ax.legend(handles, labels, loc="upper left", bbox_to_anchor=(0.105, 0.870),
              frameon=False, fontsize=10, handlelength=1.5, handletextpad=0.6,
              labelspacing=0.55, borderaxespad=0, borderpad=0, numpoints=1)


# ---- (a) resistance
ax_a.set_yscale("log")
draw_panel(ax_a,
           {"1mA": MEAS_R_1MA, "2mA": MEAS_R_2MA, "4mA": MEAS_R_4MA},
           {"1mA": R_VR_1MA, "2mA": R_VR_2MA, "4mA": R_VR_4MA},
           {"1mA": R_INV_1MA, "2mA": R_INV_2MA, "4mA": R_INV_4MA})
ax_a.set_ylim(1e-2, 1e1)
ax_a.set_yticks(RTICKS, labels=RTICK_LABELS, fontsize=10.5)
ax_a.yaxis.set_minor_locator(mticker.LogLocator(base=10, subs=np.arange(2, 10) * 1.0, numticks=20))
ax_a.yaxis.set_minor_formatter(mticker.NullFormatter())
style_axes(ax_a, "Equivalent Series Resistance (k\u03a9)")
ax_a.text(20.2, 6.5, "1mA", ha="center", va="center", fontsize=10)
ax_a.text(28.8, 5.1, "2mA", ha="center", va="center", fontsize=10)
ax_a.text(36.8, 2.18, "4mA", ha="center", va="center", fontsize=10)

# ---- (b) reactance
draw_panel(ax_b,
           {"1mA": MEAS_X_1MA, "2mA": MEAS_X_2MA, "4mA": MEAS_X_4MA},
           {"1mA": X_VR_1MA, "2mA": X_VR_2MA, "4mA": X_VR_4MA},
           {"1mA": X_INV_1MA, "2mA": X_INV_2MA, "4mA": X_INV_4MA})
ax_b.set_ylim(-3, 3)
ax_b.set_yticks(XRTICKS, labels=[str(t) for t in XRTICKS], fontfamily="cmr10", fontsize=10.5)
style_axes(ax_b, "Equivalent Series Reactance (k\u03a9)")
ax_b.text(19.5, 2.73, "1mA", ha="center", va="center", fontsize=10)
ax_b.text(27.6, 2.35, "2mA", ha="center", va="center", fontsize=10)
ax_b.text(37.7, 2.14, "4mA", ha="center", va="center", fontsize=10)

fig.text(236 / W, 1 - 418 / H, "(a)", ha="center", va="center",
         fontfamily="Liberation Serif", fontsize=12)
fig.text(236 / W, 1 - 877 / H, "(b)", ha="center", va="center",
         fontfamily="Liberation Serif", fontsize=12)

fig.savefig("out.png", dpi=100)
